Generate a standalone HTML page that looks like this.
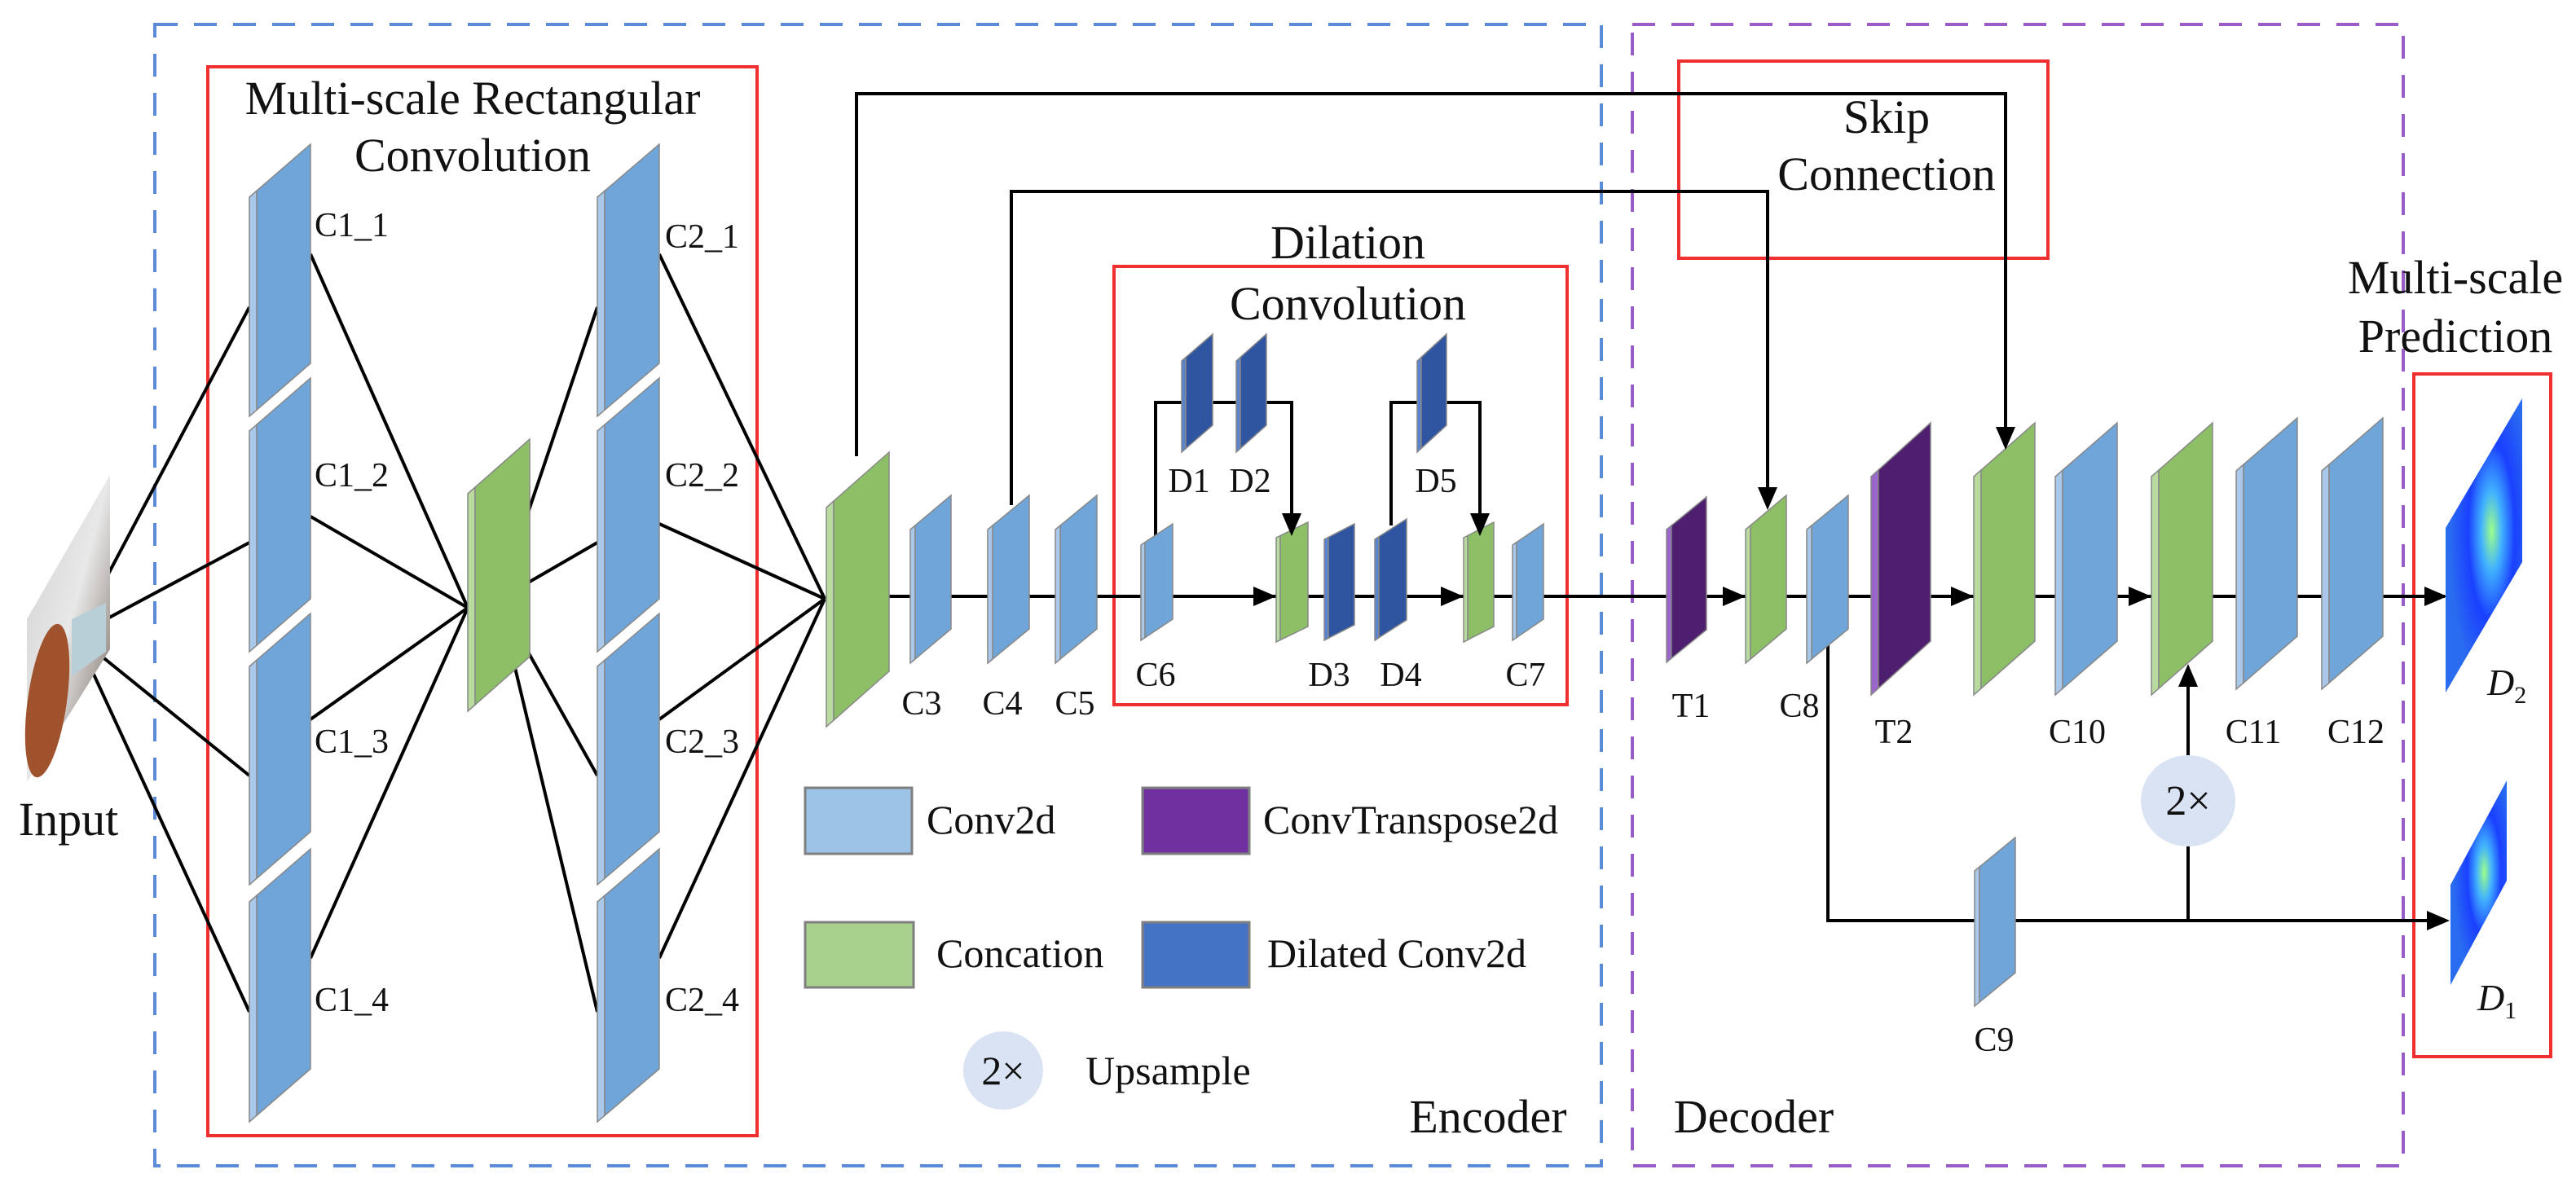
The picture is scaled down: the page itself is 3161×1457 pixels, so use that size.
<!DOCTYPE html>
<html><head><meta charset="utf-8"><style>
html,body{margin:0;padding:0;background:#fff;}
svg{display:block;font-family:"Liberation Serif","Times New Roman",serif;}
svg text{font-family:"Liberation Serif","Times New Roman",serif !important;fill:#111;}
</style></head><body>
<svg id="s" width="3161" height="1457" viewBox="0 0 3161 1457" xmlns="http://www.w3.org/2000/svg" font-family="Liberation Serif, serif">
<defs>
<linearGradient id="ing" x1="0" y1="0" x2="1" y2="1">
<stop offset="0" stop-color="#cfcfcf"/><stop offset="0.5" stop-color="#e8e8e8"/><stop offset="1" stop-color="#6a5a50"/>
</linearGradient>
<radialGradient id="hm" cx="0.6" cy="0.45" r="0.55">
<stop offset="0" stop-color="#9dff8a"/><stop offset="0.25" stop-color="#40b0ff"/><stop offset="0.55" stop-color="#1a40ff"/><stop offset="1" stop-color="#2a6cf0"/>
</radialGradient>
</defs>
<rect x="190" y="30" width="1775" height="1401" fill="none" stroke="#5b8ad6" stroke-width="4" stroke-dasharray="28,20"/>
<rect x="2003" y="30" width="946" height="1401" fill="none" stroke="#9a5cc6" stroke-width="4" stroke-dasharray="28,20"/>
<rect x="255" y="82" width="674" height="1312" fill="none" stroke="#f03030" stroke-width="4"/>
<rect x="1367" y="327" width="556" height="538" fill="none" stroke="#f03030" stroke-width="4"/>
<rect x="2060" y="75" width="453" height="242" fill="none" stroke="#f03030" stroke-width="4"/>
<rect x="2962" y="459" width="168" height="838" fill="none" stroke="#f03030" stroke-width="4"/>

<g id="lines" stroke="#000" stroke-width="4" fill="none"></g>
<g id="layers"></g>
<g id="arrows" fill="#000"></g>

<g>
<polygon points="33,760 135,583 135,797 33,960" fill="url(#ing)"/>
<ellipse cx="58" cy="860" rx="24" ry="95" fill="#a0522d" transform="rotate(8 58 860)"/>
<polygon points="88,760 130,740 130,800 88,830" fill="#b8cfd8"/>
</g>

<polygon points="3001,648 3095,489 3095,690 3001,850" fill="url(#hm)"/>
<polygon points="3007,1086 3076,958 3076,1081 3007,1209" fill="url(#hm)"/>

<ellipse cx="1231" cy="1314" rx="49" ry="48" fill="#dae3f3"/>
<ellipse cx="2685" cy="983" rx="58" ry="56" fill="#dae3f3"/>
<text x="1231" y="1331" font-size="50" text-anchor="middle">2×</text>
<text x="2685" y="1000" font-size="52" text-anchor="middle">2×</text>

<rect x="988" y="967" width="131" height="81" fill="#9dc3e6" stroke="#7f7f7f" stroke-width="3"/>
<rect x="1402" y="967" width="131" height="81" fill="#7030a0" stroke="#7f7f7f" stroke-width="3"/>
<rect x="988" y="1132" width="133" height="80" fill="#a9d18e" stroke="#7f7f7f" stroke-width="3"/>
<rect x="1402" y="1132" width="131" height="80" fill="#4472c4" stroke="#7f7f7f" stroke-width="3"/>
<g font-size="50">
<text x="1137" y="1023">Conv2d</text>
<text x="1550" y="1023">ConvTranspose2d</text>
<text x="1149" y="1187">Concation</text>
<text x="1555" y="1187">Dilated Conv2d</text>
<text x="1332" y="1331">Upsample</text>
</g>

<g font-size="58" text-anchor="middle">
<text x="580" y="140">Multi-scale Rectangular</text>
<text x="580" y="210">Convolution</text>
<text x="1654" y="317">Dilation</text>
<text x="1654" y="392">Convolution</text>
<text x="2315" y="163">Skip</text>
<text x="2315" y="233">Connection</text>
<text x="3013" y="360">Multi-scale</text>
<text x="3013" y="432">Prediction</text>
<text x="84" y="1025">Input</text>
<text x="1826" y="1390">Encoder</text>
<text x="2152" y="1390">Decoder</text>
</g>

<g font-size="42">
<text x="386" y="290">C1_1</text><text x="386" y="597">C1_2</text><text x="386" y="924">C1_3</text><text x="386" y="1241">C1_4</text>
<text x="816" y="304">C2_1</text><text x="816" y="597">C2_2</text><text x="816" y="924">C2_3</text><text x="816" y="1241">C2_4</text>
</g>
<g font-size="42" text-anchor="middle">
<text x="1131" y="877">C3</text><text x="1230" y="877">C4</text><text x="1319" y="877">C5</text>
<text x="1418" y="842">C6</text><text x="1459" y="604">D1</text><text x="1534" y="604">D2</text><text x="1762" y="604">D5</text>
<text x="1631" y="842">D3</text><text x="1719" y="842">D4</text><text x="1872" y="842">C7</text>
<text x="2075" y="880">T1</text><text x="2208" y="880">C8</text><text x="2324" y="912">T2</text>
<text x="2549" y="912">C10</text><text x="2765" y="912">C11</text><text x="2891" y="912">C12</text>
<text x="2447" y="1290">C9</text>
</g>
<g font-size="46" font-style="italic">
<text x="3052" y="853">D<tspan font-size="30" dy="10" font-style="normal">2</tspan></text>
<text x="3040" y="1240">D<tspan font-size="30" dy="10" font-style="normal">1</tspan></text>
</g>
</svg>
<script>
var NS="http://www.w3.org/2000/svg";
function el(p,tag,a){var e=document.createElementNS(NS,tag);for(var k in a)e.setAttribute(k,a[k]);document.getElementById(p).appendChild(e);return e;}
var C={b:["#6fa5d8","#a9c8ea"],g:["#8cbf66","#b9dba0"],d:["#2f55a0","#5a84d0"],p:["#4e1f6e","#9a66cc"]};
function L(x1,x2,lt,lb,rt,c){
 var w=x2-x1,h=lb-lt,k=(lt-rt)/w,s=Math.max(5,Math.min(9,w*0.12));
 var ys=lt-k*s;
 el("layers","polygon",{points:x1+","+lt+" "+(x1+s)+","+ys+" "+(x1+s)+","+(ys+h)+" "+x1+","+(lt+h),fill:C[c][1],stroke:"#888","stroke-width":1.5});
 el("layers","polygon",{points:(x1+s)+","+ys+" "+x2+","+rt+" "+x2+","+(rt+h)+" "+(x1+s)+","+(ys+h),fill:C[c][0],stroke:"#888","stroke-width":1.5});
}
function ln(pts){el("lines","polyline",{points:pts});}
function ar(x,y,d){var p;
 if(d=="r")p=[x,y,x-28,y-12,x-28,y+12];else if(d=="d")p=[x,y,x-12,y-28,x+12,y-28];else p=[x,y,x-12,y+28,x+12,y+28];
 el("arrows","polygon",{points:p.join(",")});}
[377,666,952,1242].forEach(function(y){ln("93,780 306,"+y);});
[312,634,883,1176].forEach(function(y){ln("381,"+y+" 574,746");});
[377,666,952,1242].forEach(function(y){ln("612,736 733,"+y);});
[312,643,883,1176].forEach(function(y){ln("809,"+y+" 1012,735");});
ln("1061,732 3000,732");
ln("1051,560 1051,115 2461,115 2461,545");
ln("1241,620 1241,235 2169,235 2169,620");
ln("1418,665 1418,494 1585,494 1585,650");
ln("1707,645 1707,494 1816,494 1816,650");
ln("2243,792 2243,1130 2980,1130");
ln("2685,1130 2685,1039");
ln("2685,927 2685,830");
var c1=[[242,511],[529,800],[818,1086],[1107,1377]];
c1.forEach(function(a){L(306,381,a[0],a[1],a[0]-65,"b");L(733,809,a[0],a[1],a[0]-65,"b");});
L(574,650,606,873,539,"g");
L(1014,1091,623,892,555,"g");
L(1117,1167,650,814,608,"b");
L(1212,1263,650,814,608,"b");
L(1295,1346,650,814,608,"b");
L(1400,1439,669,786,643,"b");
L(1450,1488,443,555,410,"d");
L(1517,1554,443,555,410,"d");
L(1566,1605,660,788,641,"g");
L(1625,1662,662,786,643,"d");
L(1687,1726,662,786,637,"d");
L(1739,1775,443,555,410,"d");
L(1796,1833,660,788,641,"g");
L(1856,1894,669,786,643,"b");
L(2045,2094,650,813,610,"p");
L(2142,2192,650,814,608,"g");
L(2217,2268,650,814,608,"b");
L(2296,2369,585,853,519,"p");
L(2422,2497,585,853,519,"g");
L(2522,2598,585,853,519,"b");
L(2640,2715,585,853,519,"g");
L(2744,2819,578,846,513,"b");
L(2849,2924,578,846,513,"b");
L(2423,2473,1069,1235,1028,"b");
ar(1566,732,"r");ar(1796,732,"r");ar(2142,732,"r");ar(2422,732,"r");ar(2640,732,"r");ar(3003,732,"r");ar(3006,1130,"r");
ar(2461,552,"d");ar(2169,626,"d");ar(1585,658,"d");ar(1816,658,"d");ar(2685,815,"u");
</script>
</body></html>
